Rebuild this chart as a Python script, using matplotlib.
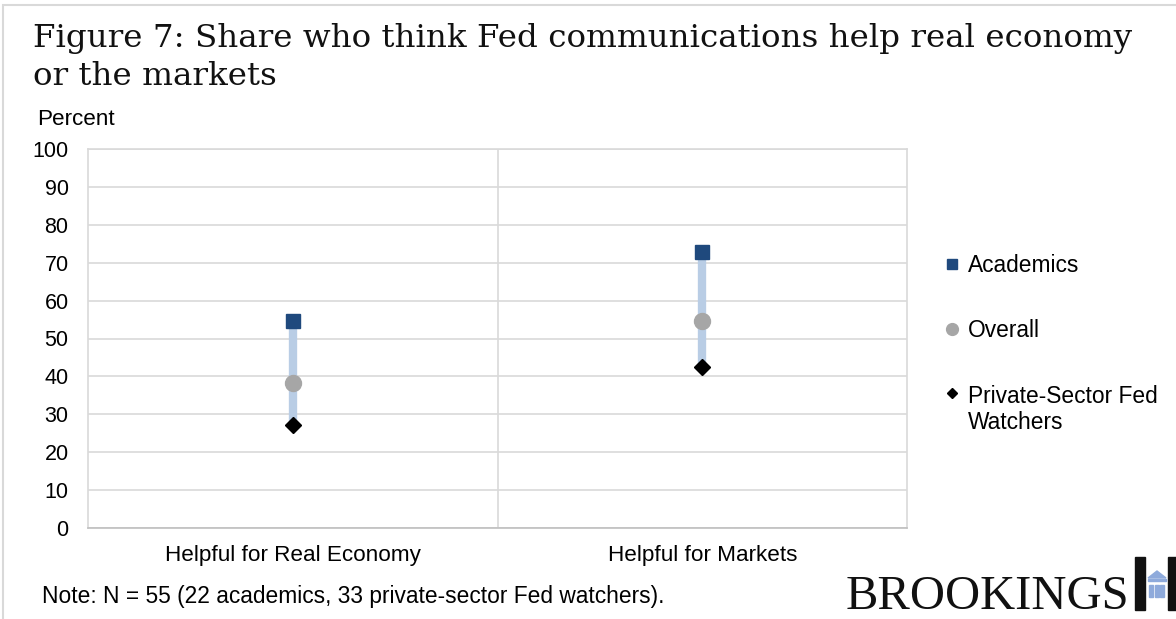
import matplotlib
matplotlib.use("Agg")
import matplotlib.pyplot as plt
from matplotlib.patches import Rectangle, Polygon
from matplotlib.lines import Line2D
from matplotlib.legend_handler import HandlerLine2D

categories = ["Helpful for Real Economy", "Helpful for Markets"]
academics = [54.5, 72.7]
overall = [38.2, 54.5]
private = [27.3, 42.4]
yticks = [0, 10, 20, 30, 40, 50, 60, 70, 80, 90, 100]

W, H = 1176, 619
fig = plt.figure(figsize=(W / 100, H / 100), dpi=100)
sans = ["Liberation Sans", "DejaVu Sans"]
serif = ["DejaVu Serif"]

# outer frame (light grey, top and left visible)
fig.add_artist(Rectangle((3 / W, -0.05), 1.2, (H - 5) / H + 0.05, transform=fig.transFigure,
                         fill=False, edgecolor="#D9D9D9", linewidth=1.5))

ax = fig.add_axes([88 / W, (H - 528) / H, (907 - 88) / W, (528 - 149) / H])
x = list(range(len(categories)))

for i in x:
    ax.plot([i, i], [private[i], academics[i]], color="#B9CDE5", linewidth=6,
            solid_capstyle="butt", zorder=2)
l1, = ax.plot(x, academics, linestyle="none", marker="s", markersize=10,
              color="#1F497D", label="Academics", zorder=4)
l2, = ax.plot(x, overall, linestyle="none", marker="o", markersize=11.5,
              color="#A6A6A6", label="Overall", zorder=4)
l3, = ax.plot(x, private, linestyle="none", marker="D", markersize=8,
              color="#000000", label="Private-Sector Fed\nWatchers", zorder=4)

ax.set_xlim(-0.5, 1.5)
ax.set_ylim(0, 100)
ax.set_yticks(yticks)
ax.set_xticks(x)
ax.set_xticklabels(categories, fontsize=16.2, family=sans)
ax.set_yticklabels([str(t) for t in yticks], fontsize=15.5, family=sans)
ax.tick_params(axis="both", length=0)
ax.tick_params(axis="y", pad=14)
ax.tick_params(axis="x", pad=12)
ax.grid(axis="y", color="#D9D9D9", linewidth=1.2, zorder=0)
ax.axvline(0.5, color="#D9D9D9", linewidth=1.2, zorder=0)
for side in ["top", "left", "right"]:
    ax.spines[side].set_color("#D9D9D9")
    ax.spines[side].set_linewidth(1.2)
ax.spines["bottom"].set_color("#BFBFBF")
ax.spines["bottom"].set_linewidth(1.2)


class ShiftedHandler(HandlerLine2D):
    def __init__(self, dy, **kw):
        super().__init__(**kw)
        self.dy = dy

    def create_artists(self, legend, orig_handle, xdescent, ydescent, width, height,
                       fontsize, trans):
        arts = super().create_artists(legend, orig_handle, xdescent, ydescent, width,
                                      height, fontsize, trans)
        for a in arts:
            yd = a.get_ydata()
            a.set_ydata([v + self.dy for v in yd])
        return arts


# legend
h1 = Line2D([], [], linestyle="none", marker="s", markersize=7, color="#1F497D")
h2 = Line2D([], [], linestyle="none", marker="o", markersize=8.5, color="#A6A6A6")
h3 = Line2D([], [], linestyle="none", marker="D", markersize=5, color="#000000")
leg = fig.legend([h1, h2, h3], ["Academics", "Overall", "Private-Sector Fed\nWatchers"],
                 loc="upper left", bbox_to_anchor=(946 / W, (H - 254) / H),
                 frameon=False, prop={"family": sans, "size": 16.4},
                 handlelength=0.5, handletextpad=0.45, labelspacing=1.86,
                 borderpad=0, borderaxespad=0,
                 handler_map={h3: ShiftedHandler(dy=13)})

# texts
fig.text(33 / W, (H - 47) / H, "Figure 7: Share who think Fed communications help real economy",
         fontsize=23.4, family=serif, color="#111111", va="baseline")
fig.text(33 / W, (H - 85) / H, "or the markets", fontsize=23.4, family=serif,
         color="#111111", va="baseline")
fig.text(37 / W, (H - 119) / H, "Percent", fontsize=16.2, family=sans, va="center")
fig.text(42 / W, (H - 597) / H, "Note: N = 55 (22 academics, 33 private-sector Fed watchers).",
         fontsize=16.4, family=sans, va="center")

# Brookings logo
fig.text(846 / W, (H - 609) / H, "BROOKINGS", fontsize=35, family=["Liberation Serif"],
         color="#111111", va="baseline")
def px(xx, yy):
    return (xx / W, (H - yy) / H)
fig.add_artist(Rectangle(px(1135, 610), 10 / W, 53 / H, transform=fig.transFigure,
                         color="#111111"))
fig.add_artist(Rectangle(px(1168, 610), 10 / W, 53 / H, transform=fig.transFigure,
                         color="#111111"))
fig.add_artist(Polygon([px(1148, 578), px(1157, 571), px(1166, 578)],
                       closed=True, transform=fig.transFigure, color="#8EAADB"))
fig.add_artist(Rectangle(px(1148, 581), 18 / W, 2 / H, transform=fig.transFigure,
                         color="#8EAADB"))
for cx in [1149, 1154.5, 1160]:
    fig.add_artist(Rectangle(px(cx, 597), 4 / W, 12 / H, transform=fig.transFigure,
                             color="#8EAADB"))

fig.savefig("out.png", dpi=100)
